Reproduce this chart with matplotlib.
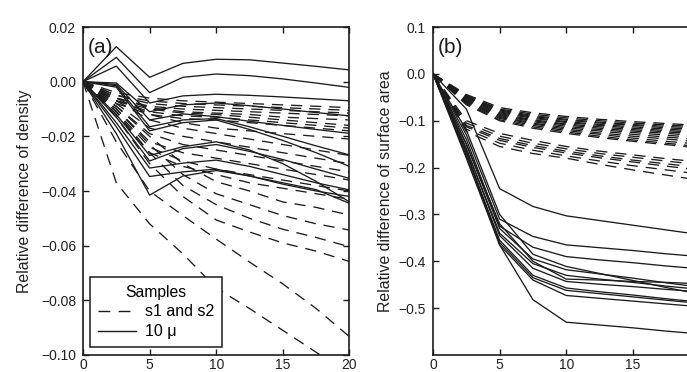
import matplotlib
matplotlib.use("Agg")
import matplotlib.pyplot as plt
from matplotlib.lines import Line2D

plt.rcParams['font.family'] = ['Liberation Sans', 'DejaVu Sans']

# time axis shared by every curve
steps = [0, 2.5, 5, 7.5, 10, 12.5, 15, 17.5, 20]

# (a) relative difference of density, samples s1 and s2 (dashed)
dens_s12 = [
    # upper, nearly flat bundle
    [0, -0.004, -0.006, -0.007, -0.0075, -0.008, -0.0085, -0.009, -0.0095],
    [0, -0.005, -0.007, -0.008, -0.0085, -0.009, -0.0095, -0.010, -0.0105],
    [0, -0.005, -0.008, -0.009, -0.0095, -0.010, -0.0105, -0.011, -0.0115],
    [0, -0.006, -0.009, -0.010, -0.0105, -0.011, -0.0115, -0.012, -0.0125],
    [0, -0.006, -0.0095, -0.011, -0.0115, -0.012, -0.013, -0.0135, -0.014],
    [0, -0.007, -0.010, -0.0115, -0.012, -0.013, -0.014, -0.015, -0.016],
    [0, -0.007, -0.011, -0.0125, -0.013, -0.014, -0.015, -0.016, -0.017],
    [0, -0.008, -0.012, -0.0135, -0.014, -0.015, -0.016, -0.017, -0.018],
    # middle bundle
    [0, -0.006, -0.012, -0.015, -0.017, -0.018, -0.019, -0.020, -0.021],
    [0, -0.007, -0.014, -0.017, -0.019, -0.021, -0.023, -0.025, -0.027],
    [0, -0.008, -0.017, -0.020, -0.022, -0.024, -0.026, -0.028, -0.030],
    [0, -0.009, -0.019, -0.023, -0.025, -0.027, -0.029, -0.031, -0.033],
    [0, -0.010, -0.022, -0.026, -0.028, -0.030, -0.032, -0.034, -0.036],
    [0, -0.011, -0.024, -0.029, -0.032, -0.034, -0.036, -0.038, -0.040],
    [0, -0.012, -0.026, -0.031, -0.034, -0.037, -0.039, -0.041, -0.043],
    # lower fan
    [0, -0.009, -0.020, -0.030, -0.0366, -0.040, -0.044, -0.046, -0.0488],
    [0, -0.010, -0.023, -0.034, -0.041, -0.045, -0.049, -0.052, -0.0543],
    [0, -0.011, -0.026, -0.038, -0.045, -0.050, -0.054, -0.057, -0.0604],
    [0, -0.013, -0.030, -0.042, -0.0506, -0.055, -0.059, -0.062, -0.0658],
    [0, -0.022, -0.040, -0.049, -0.0576, -0.066, -0.074, -0.083, -0.0933],
    [0, -0.037, -0.052, -0.063, -0.0755, -0.083, -0.091, -0.099, -0.107],
]

# (a) sample 10 micron (solid)
dens_10u = [
    [0, 0.0128, 0.0016, 0.0067, 0.0082, 0.0080, 0.0068, 0.0056, 0.0043],
    [0, 0.0089, -0.0040, 0.0016, 0.0028, 0.0022, 0.0010, -0.0005, -0.0021],
    [0, 0.0057, -0.0078, -0.0052, -0.0046, -0.0050, -0.0056, -0.0063, -0.0070],
    [0, -0.0005, -0.0110, -0.0085, -0.0078, -0.0088, -0.0100, -0.0113, -0.0125],
    [0, -0.0010, -0.0140, -0.0118, -0.0128, -0.0145, -0.0160, -0.0175, -0.0189],
    [0, -0.0015, -0.0165, -0.0140, -0.0135, -0.0165, -0.0200, -0.0235, -0.0268],
    [0, -0.0020, -0.0180, -0.0150, -0.0140, -0.0175, -0.0215, -0.0260, -0.0310],
    [0, -0.0120, -0.0270, -0.0238, -0.0220, -0.0250, -0.0300, -0.0365, -0.0440],
    [0, -0.0130, -0.0290, -0.0245, -0.0230, -0.0255, -0.0285, -0.0320, -0.0354],
    [0, -0.0150, -0.0316, -0.0298, -0.0287, -0.0310, -0.0340, -0.0370, -0.0396],
    [0, -0.0165, -0.0347, -0.0330, -0.0320, -0.0345, -0.0375, -0.0400, -0.0420],
    [0, -0.0190, -0.0415, -0.0345, -0.0325, -0.0345, -0.0370, -0.0395, -0.0445],
]

# (b) relative difference of surface area, samples s1 and s2 (dashed)
area_s12 = [
    [0, -0.044, -0.072, -0.083, -0.091, -0.097, -0.102, -0.106, -0.110],
    [0, -0.046, -0.075, -0.086, -0.094, -0.100, -0.105, -0.109, -0.113],
    [0, -0.047, -0.077, -0.089, -0.097, -0.103, -0.108, -0.112, -0.116],
    [0, -0.049, -0.079, -0.091, -0.099, -0.105, -0.110, -0.115, -0.119],
    [0, -0.050, -0.081, -0.093, -0.102, -0.108, -0.113, -0.118, -0.122],
    [0, -0.052, -0.083, -0.095, -0.104, -0.110, -0.116, -0.121, -0.125],
    [0, -0.053, -0.085, -0.098, -0.107, -0.113, -0.119, -0.124, -0.128],
    [0, -0.055, -0.087, -0.100, -0.109, -0.116, -0.122, -0.127, -0.132],
    [0, -0.057, -0.089, -0.102, -0.112, -0.119, -0.125, -0.131, -0.136],
    [0, -0.058, -0.091, -0.105, -0.115, -0.122, -0.129, -0.135, -0.140],
    [0, -0.060, -0.093, -0.107, -0.118, -0.126, -0.133, -0.139, -0.145],
    [0, -0.062, -0.095, -0.110, -0.121, -0.129, -0.137, -0.144, -0.150],
    [0, -0.064, -0.098, -0.113, -0.124, -0.133, -0.141, -0.148, -0.155],
    [0, -0.066, -0.100, -0.116, -0.127, -0.136, -0.144, -0.151, -0.158],
    [0, -0.100, -0.127, -0.142, -0.155, -0.165, -0.173, -0.181, -0.188],
    [0, -0.105, -0.133, -0.148, -0.160, -0.170, -0.178, -0.186, -0.194],
    [0, -0.110, -0.138, -0.153, -0.165, -0.175, -0.184, -0.192, -0.200],
    [0, -0.113, -0.142, -0.157, -0.169, -0.179, -0.188, -0.197, -0.205],
    [0, -0.118, -0.148, -0.163, -0.175, -0.186, -0.196, -0.205, -0.214],
    [0, -0.123, -0.155, -0.170, -0.180, -0.193, -0.205, -0.216, -0.227],
]

# (b) sample 10 micron (solid)
area_10u = [
    [0, -0.075, -0.245, -0.283, -0.303, -0.313, -0.323, -0.333, -0.343],
    [0, -0.130, -0.310, -0.347, -0.365, -0.371, -0.377, -0.384, -0.390],
    [0, -0.140, -0.325, -0.370, -0.390, -0.397, -0.403, -0.410, -0.416],
    [0, -0.120, -0.300, -0.385, -0.411, -0.426, -0.441, -0.456, -0.470],
    [0, -0.150, -0.330, -0.395, -0.418, -0.427, -0.436, -0.446, -0.455],
    [0, -0.160, -0.340, -0.405, -0.430, -0.438, -0.445, -0.453, -0.460],
    [0, -0.150, -0.320, -0.400, -0.438, -0.440, -0.443, -0.445, -0.448],
    [0, -0.160, -0.345, -0.415, -0.443, -0.449, -0.454, -0.460, -0.465],
    [0, -0.170, -0.355, -0.430, -0.457, -0.465, -0.472, -0.480, -0.487],
    [0, -0.175, -0.360, -0.435, -0.462, -0.469, -0.476, -0.483, -0.490],
    [0, -0.180, -0.365, -0.440, -0.473, -0.479, -0.485, -0.491, -0.497],
    [0, -0.165, -0.365, -0.482, -0.530, -0.536, -0.542, -0.549, -0.555],
]

dens_yticks = [-0.10, -0.08, -0.06, -0.04, -0.02, 0.00, 0.02]
area_yticks = [-0.5, -0.4, -0.3, -0.2, -0.1, 0.0, 0.1]
dens_xticks = [0, 5, 10, 15, 20]
area_xticks = [0, 5, 10, 15]   # 20 falls outside the cropped picture

ink = '#1c1c1c'
dash = (0, (8.5, 6))

fig = plt.figure(figsize=(6.87, 3.72), dpi=100)
# right panel runs past the figure edge, as in the original crop
ax_a = fig.add_axes([0.1208, 0.0457, 0.3879, 0.8817])
ax_b = fig.add_axes([0.6303, 0.0457, 0.3879, 0.8817])


def style(ax):
    for sp in ax.spines.values():
        sp.set_linewidth(1.2)
        sp.set_color(ink)
    ax.tick_params(direction='in', top=True, right=True, length=4.5,
                   width=1.0, color=ink, labelsize=10, labelcolor='#222222')
    ax.tick_params(axis='y', pad=5)
    ax.tick_params(axis='x', pad=2.5)


for ys in dens_s12:
    ax_a.plot(steps, ys, color=ink, lw=0.95, linestyle=dash)
for ys in dens_10u:
    ax_a.plot(steps, ys, color=ink, lw=0.95)
ax_a.set_xlim(0, 20)
ax_a.set_ylim(-0.10, 0.02)
ax_a.set_xticks(dens_xticks)
ax_a.set_yticks(dens_yticks)
ax_a.set_ylabel('Relative difference of density', fontsize=11.4, color='#222222', labelpad=6)
ax_a.text(0.019, 0.965, '(a)', transform=ax_a.transAxes, fontsize=15,
          va='top', ha='left', color=ink)
style(ax_a)

handles = [Line2D([], [], color=ink, lw=1.0, linestyle=dash),
           Line2D([], [], color=ink, lw=1.0)]
leg = ax_a.legend(handles, ['s1 and s2', '10 μ'], title='Samples',
                  loc='lower left', bbox_to_anchor=(0.026, 0.024), borderaxespad=0,
                  fontsize=11.5, title_fontsize=11.3, fancybox=False, framealpha=1,
                  edgecolor=ink, handlelength=2.4, handletextpad=0.55,
                  labelspacing=0.3, borderpad=0.5)
leg.get_frame().set_linewidth(1.1)

for ys in area_s12:
    ax_b.plot(steps, ys, color=ink, lw=0.95, linestyle=dash)
for ys in area_10u:
    ax_b.plot(steps, ys, color=ink, lw=0.95)
ax_b.set_xlim(0, 20)
ax_b.set_ylim(-0.6, 0.1)
ax_b.set_xticks(area_xticks)
ax_b.set_yticks(area_yticks)
ax_b.set_ylabel('Relative difference of surface area', fontsize=11.4, color='#222222', labelpad=4)
ax_b.text(0.019, 0.965, '(b)', transform=ax_b.transAxes, fontsize=15,
          va='top', ha='left', color=ink)
style(ax_b)

fig.savefig('out.png', dpi=100)
